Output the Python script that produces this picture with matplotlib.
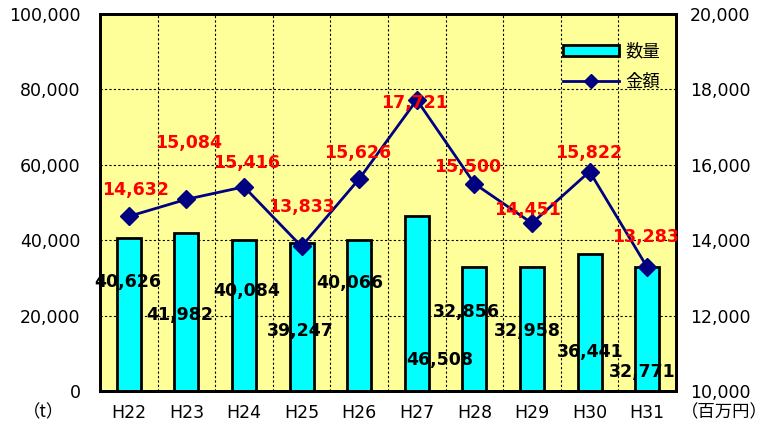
import matplotlib
matplotlib.use("Agg")
import matplotlib.pyplot as plt
from matplotlib.lines import Line2D
from matplotlib.patches import Patch
import numpy as np

plt.rcParams['font.family'] = ['DejaVu Sans', 'Noto Sans CJK JP']

categories = ["H22", "H23", "H24", "H25", "H26", "H27", "H28", "H29", "H30", "H31"]
quantity = [40626, 41982, 40084, 39247, 40066, 46508, 32856, 32958, 36441, 32771]
amount = [14632, 15084, 15416, 13833, 15626, 17721, 15500, 14451, 15822, 13283]

# label placement (data coords)
qty_label_x = [-0.02, -0.12, 0.04, -0.03, -0.17, 0.40, -0.14, -0.08, 0.01, -0.08]
qty_label_y = [28900, 20200, 26500, 15900, 28600, 8200, 21000, 15900, 10300, 5000]
amt_label_x = [0.12, 0.03, 0.05, 0.0, -0.03, -0.04, -0.12, -0.08, -0.02, -0.03]
amt_label_y = [15330, 16580, 16050, 14880, 16310, 17640, 15940, 14800, 16310, 14085]

fig = plt.figure(figsize=(7.82, 4.32), dpi=100)
ax = fig.add_axes([100/782, 1-391/432, 576/782, 377/432])
ax.set_facecolor("#FFFF99")

x = np.arange(len(categories))
ax.bar(x, quantity, width=0.42, color="#00FFFF", edgecolor="black", linewidth=2, zorder=3)
ax.set_xlim(-0.5, len(categories) - 0.5)
ax.set_ylim(0, 100000)
ax.set_yticks(np.arange(0, 100001, 20000))
ax.set_yticklabels([f"{v:,}" for v in range(0, 100001, 20000)])
ax.set_xticks(x)
ax.set_xticklabels(categories)
ax.set_xticks(np.arange(0.5, len(categories) - 0.5, 1), minor=True)
ax.grid(True, which="major", axis="y", linestyle=(0, (2, 2)), color="black", linewidth=0.8, zorder=1)
ax.grid(True, which="minor", axis="x", linestyle=(0, (2, 2)), color="black", linewidth=0.8, zorder=1)
ax.tick_params(axis="y", length=0, pad=14, labelsize=12.5)
ax.tick_params(axis="x", which="both", length=0, pad=9, labelsize=12.5)
for s in ax.spines.values():
    s.set_linewidth(2)

ax2 = ax.twinx()
ax2.plot(x, amount, color="#000080", linewidth=2, marker="D", markersize=9, zorder=4)
ax2.set_ylim(10000, 20000)
ax2.set_yticks(np.arange(10000, 20001, 2000))
ax2.set_yticklabels([f"{v:,}" for v in range(10000, 20001, 2000)])
ax2.tick_params(axis="y", length=0, pad=10, labelsize=12.5)
for s in ax2.spines.values():
    s.set_linewidth(2)

for i in range(len(categories)):
    ax2.text(x[i] + amt_label_x[i], amt_label_y[i], f"{amount[i]:,}", color="red",
             fontsize=12.5, fontweight="bold", ha="center", va="center", zorder=6)
    ax.text(x[i] + qty_label_x[i], qty_label_y[i], f"{quantity[i]:,}", color="black",
            fontsize=12.5, fontweight="bold", ha="center", va="center", zorder=5)

handles = [Patch(facecolor="#00FFFF", edgecolor="black", linewidth=2),
           Line2D([0], [0], color="#000080", linewidth=2, marker="D", markersize=7)]
ax2.legend(handles, ["数量", "金額"], loc="upper right", bbox_to_anchor=(1.0, 0.965),
           frameon=False, fontsize=12.5, handlelength=3.2, handleheight=0.6,
           labelspacing=0.7, handletextpad=0.4)

fig.text(44/782, 1-412/432, "（t）", ha="center", va="center", fontsize=12.5,
         family=['Noto Sans CJK JP', 'DejaVu Sans'])
fig.text(724/782, 1-412/432, "（百万円）", ha="center", va="center", fontsize=12.5,
         family=['Noto Sans CJK JP', 'DejaVu Sans'])

fig.savefig("out.png", dpi=100)
